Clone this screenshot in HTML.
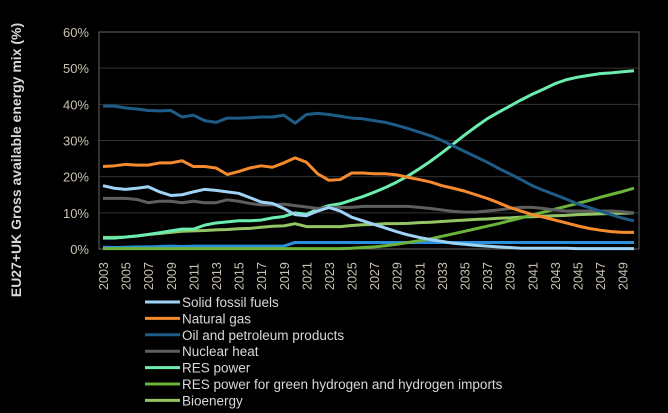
<!DOCTYPE html>
<html><head><meta charset="utf-8"><style>
body{margin:0;background:#000;width:668px;height:413px;overflow:hidden;font-family:"Liberation Sans",sans-serif}
svg{display:block}
</style></head><body>
<svg id="c" width="668" height="413"></svg>
<script>
const years=[];for(let y=2003;y<=2050;y++)years.push(y);
const solid=[17.5,16.8,16.5,16.8,17.2,15.8,14.8,15,15.8,16.5,16.2,15.8,15.4,14.2,13,12.6,11.2,9.5,9.2,10.5,11.5,10.5,8.8,7.8,6.8,5.8,4.8,3.9,3.2,2.6,2.1,1.6,1.3,1.0,0.8,0.6,0.4,0.2,0.2,0.2,0.2,0.2,0.1,0.1,0.1,0.1,0.1,0.1];
const gas=[22.8,23,23.4,23.2,23.2,23.8,23.8,24.4,22.8,22.8,22.4,20.6,21.4,22.4,23,22.6,23.8,25.2,24,20.8,19,19.2,21,21,20.8,20.8,20.5,19.8,19.2,18.5,17.5,16.8,16,15,14,12.8,11.5,10.5,9.5,8.8,8,7.2,6.4,5.7,5.2,4.8,4.6,4.6];
const oil=[39.5,39.5,39,38.7,38.3,38.2,38.3,36.5,37,35.5,35,36.2,36.2,36.3,36.5,36.5,37,34.8,37.2,37.5,37.2,36.7,36.2,36,35.5,35,34.2,33.3,32.3,31.3,30,28.5,27,25.5,24,22.3,20.8,19.2,17.5,16.2,15,13.8,12.5,11.5,10.5,9.5,8.5,7.8];
const nuclear=[14,14,14,13.7,12.8,13.2,13.2,12.8,13.2,12.8,12.8,13.6,13.2,12.6,12.2,12.2,12.4,12,11.6,11.2,11.5,11.5,11.5,11.8,11.8,11.8,11.8,11.8,11.5,11.2,10.8,10.4,10.2,10.2,10.5,10.8,11.2,11.5,11.5,11.2,10.8,10.5,10.5,10.5,10.5,10.5,10.3,10];
const resPower=[3,3,3.3,3.6,4,4.5,5,5.5,5.5,6.6,7.2,7.5,7.8,7.8,8,8.6,9,10,9.6,11,12,12.5,13.5,14.5,15.7,17,18.5,20.2,22.2,24.3,26.6,29,31.5,33.8,36,37.8,39.5,41.2,42.8,44.2,45.7,46.8,47.5,48,48.5,48.7,49,49.3];
const hydrogen=[0.1,0.1,0.1,0.1,0.1,0.1,0.1,0.1,0.1,0.1,0.1,0.1,0.1,0.1,0.1,0.1,0.1,0.1,0.1,0.1,0.1,0.1,0.2,0.4,0.6,0.9,1.3,1.8,2.3,2.8,3.5,4.2,4.9,5.6,6.3,7,7.8,8.6,9.4,10.2,11,11.8,12.6,13.4,14.3,15.1,15.9,16.8];
const bio=[3.2,3.2,3.3,3.6,4,4.3,4.6,4.9,5,5.1,5.3,5.4,5.6,5.7,6,6.3,6.4,7,6.2,6.2,6.2,6.2,6.5,6.7,6.8,7,7,7.1,7.3,7.4,7.6,7.8,8,8.2,8.3,8.5,8.6,8.8,8.9,9.1,9.2,9.3,9.5,9.6,9.7,9.8,9.9,10];
const other=[0.5,0.4,0.5,0.6,0.6,0.7,0.8,0.7,0.8,0.8,0.8,0.8,0.8,0.8,0.8,0.8,0.8,1.8,1.8,1.8,1.8,1.8,1.8,1.8,1.8,1.8,1.8,1.8,1.8,1.8,1.8,1.8,1.8,1.8,1.8,1.8,1.8,1.8,1.8,1.8,1.8,1.8,1.8,1.8,1.8,1.8,1.8,1.8];
const yTicks=[0,10,20,30,40,50,60];
const series=[
 {name:"Solid fossil fuels",key:"solid-fossil-fuels",d:solid,c:"#9fd3f5",legend:true},
 {name:"Natural gas",key:"natural-gas",d:gas,c:"#f58a2e",legend:true},
 {name:"Oil and petroleum products",key:"oil",d:oil,c:"#1d5c87",legend:true},
 {name:"Nuclear heat",key:"nuclear-heat",d:nuclear,c:"#5e5e5e",legend:true},
 {name:"RES power",key:"res-power",d:resPower,c:"#6bedb0",legend:true},
 {name:"RES power for green hydrogen and hydrogen imports",key:"res-hydrogen",d:hydrogen,c:"#6cb33a",legend:true},
 {name:"Bioenergy",key:"bioenergy",d:bio,c:"#93c565",legend:true},
 {name:"Other",key:"other",d:other,c:"#2a8fdc",legend:false}
];
const L=99,R=639,T=32,B=249;
const xs=i=>103+i*(634-103)/(years.length-1);
const ys=v=>B-v*(B-T)/60;
const svg=document.getElementById('c');const NS="http://www.w3.org/2000/svg";
function mk(t,a,p){const e=document.createElementNS(NS,t);for(const k in a)e.setAttribute(k,a[k]);(p||svg).appendChild(e);return e;}
yTicks.forEach(v=>{
 const g=mk('line',{x1:L,x2:R,y1:ys(v),y2:ys(v),stroke:v===0?'#888':'#333','stroke-width':1});
 
 
 const t=mk('text',{x:L-10,y:ys(v)+5,'text-anchor':'end','font-size':13,fill:'#c9c2b2'});
 t.textContent=v+'%';
 
 
});
const fr=mk('rect',{x:L,y:T,width:R-L,height:B-T,fill:'none',stroke:'#666'});


years.forEach((y,i)=>{if((y-2003)%2)return;
 const t=mk('text',{transform:`translate(${xs(i)+5},${290}) rotate(-90)`,'font-size':12.5,fill:'#c9c2b2'});
 t.textContent=y;
 
 
});
const yt=mk('text',{transform:'translate(21,160) rotate(-90)','text-anchor':'middle','font-size':14,'font-weight':'bold',fill:'#d8d8d8'});
yt.textContent='EU27+UK  Gross available energy mix (%)';


series.slice().reverse().forEach(s=>{
 const p=mk('polyline',{points:s.d.map((v,i)=>xs(i)+','+ys(v)).join(' '),fill:'none',stroke:s.c,'stroke-width':3,'stroke-linejoin':'round'});
 
 
});
let row=0;
series.forEach(s=>{if(!s.legend)return;const y=302+row*16.4;row++;
 const g=mk('g',{});
 
 
 mk('line',{x1:145,x2:180,y1:y,y2:y,stroke:s.c,'stroke-width':3},g);
 const t=mk('text',{x:182,y:y+5,'font-size':13.5,fill:'#d8d8d8'},g);t.textContent=s.name;
});
</script>
</body></html>
